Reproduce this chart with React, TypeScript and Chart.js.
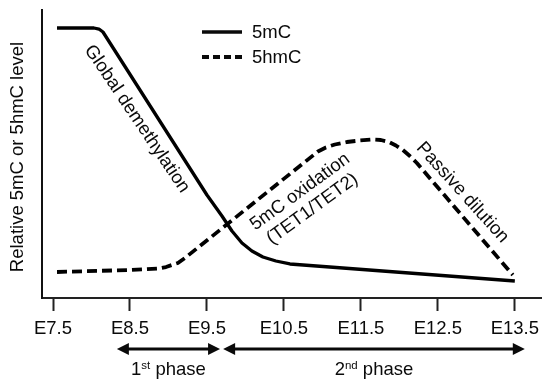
import React, { useEffect, useRef } from "react";
import { Chart, registerables } from "chart.js";

Chart.register(...registerables);

// ---- data ----
const tickValues = [7.5, 8.5, 9.5, 10.5, 11.5, 12.5, 13.5];
const tickLabels = ["E7.5", "E8.5", "E9.5", "E10.5", "E11.5", "E12.5", "E13.5"];

const seriesLabels = ["5mC", "5hmC"];

const mC_x = [7.552, 8.032, 8.097, 8.149, 9.5, 9.695, 9.825, 9.955, 10.084, 10.227, 10.396, 10.578, 13.5];
const mC_y = [93.75, 93.75, 93.4, 92.36, 35.76, 28.47, 23.26, 19.1, 16.32, 14.24, 12.85, 11.81, 5.9];

const hmC_x = [7.552, 8.5, 8.864, 8.968, 9.045, 9.123, 9.214, 10.942, 11.045, 11.162, 11.318, 11.487, 11.643, 11.76, 11.864, 11.955, 12.045, 12.136, 12.227, 12.305, 13.474];
const hmC_y = [9.03, 9.72, 10.24, 10.76, 11.46, 12.15, 13.89, 50.87, 52.26, 53.3, 54.17, 54.69, 55.03, 54.86, 54.17, 52.95, 51.39, 49.31, 46.88, 44.44, 7.99];

const yTitle = "Relative 5mC or 5hmC level";

// in-plot annotations (anchor in data units, angle in degrees)
const annotText = [["Global demethylation"], ["5mC oxidation", "(TET1/TET2)"], ["Passive dilution"]];
const annotX = [8.59, 10.79, 12.82];
const annotY = [62.2, 33.9, 36.6];
const annotAngle = [56, -36, 48];

// phases below the axis
const phaseStart = [8.33, 9.71];
const phaseEnd = [9.67, 13.63];
const phaseNum = ["1", "2"];
const phaseSup = ["st", "nd"];
const phaseWord = " phase";

const FONT = "'Liberation Sans', Arial, Helvetica, sans-serif";
const INK = "#0a0a0a";
const FS = 18.5;

function drawArrow(ctx: CanvasRenderingContext2D, x1: number, x2: number, y: number) {
  const hl = 12;
  const hh = 6;
  ctx.beginPath();
  ctx.moveTo(x1 + hl - 1, y);
  ctx.lineTo(x2 - hl + 1, y);
  ctx.stroke();
  ctx.beginPath();
  ctx.moveTo(x1, y);
  ctx.lineTo(x1 + hl, y - hh);
  ctx.lineTo(x1 + hl, y + hh);
  ctx.closePath();
  ctx.fill();
  ctx.beginPath();
  ctx.moveTo(x2, y);
  ctx.lineTo(x2 - hl, y - hh);
  ctx.lineTo(x2 - hl, y + hh);
  ctx.closePath();
  ctx.fill();
}

const annotPlugin = {
  id: "annot",
  afterDraw(chart: any) {
    const ctx: CanvasRenderingContext2D = chart.ctx;
    const xs = chart.scales.x;
    const ys = chart.scales.y;
    const area = chart.chartArea;
    ctx.save();
    ctx.fillStyle = INK;
    ctx.strokeStyle = INK;

    // rotated annotations
    ctx.font = `${FS}px ${FONT}`;
    for (let i = 0; i < annotText.length; i++) {
      const px = xs.getPixelForValue(annotX[i]);
      const py = ys.getPixelForValue(annotY[i]);
      ctx.save();
      ctx.translate(px, py);
      ctx.rotate((annotAngle[i] * Math.PI) / 180);
      ctx.textAlign = "center";
      ctx.textBaseline = "middle";
      const lines = annotText[i];
      lines.forEach((l, k) => ctx.fillText(l, 0, (k - (lines.length - 1) / 2) * 21));
      ctx.restore();
    }

    // y-axis title
    ctx.save();
    ctx.translate(17.5, (area.top + area.bottom) / 2 + 3);
    ctx.rotate(-Math.PI / 2);
    ctx.textAlign = "center";
    ctx.textBaseline = "middle";
    ctx.font = `${FS}px ${FONT}`;
    ctx.fillText(yTitle, 0, 0);
    ctx.restore();

    // legend
    const lx = area.left + 160;
    const ly0 = area.top + 22;
    chart.data.datasets.forEach((ds: any, i: number) => {
      const ly = ly0 + i * 25;
      ctx.save();
      ctx.lineWidth = ds.borderWidth;
      ctx.setLineDash(i === 0 ? [] : [7, 4]);
      ctx.beginPath();
      ctx.moveTo(lx, ly);
      ctx.lineTo(lx + 40, ly);
      ctx.stroke();
      ctx.restore();
      ctx.textAlign = "left";
      ctx.textBaseline = "middle";
      ctx.font = `${FS}px ${FONT}`;
      ctx.fillText(ds.label, lx + 50, ly + 1);
    });

    // phase arrows
    const ay = area.bottom + 51;
    ctx.lineWidth = 3;
    for (let i = 0; i < phaseStart.length; i++) {
      const x1 = xs.getPixelForValue(phaseStart[i]);
      const x2 = xs.getPixelForValue(phaseEnd[i]);
      drawArrow(ctx, x1, x2, ay);
      const big = `${FS}px ${FONT}`;
      const small = `${FS * 0.62}px ${FONT}`;
      ctx.font = big;
      const w1 = ctx.measureText(phaseNum[i]).width;
      const w3 = ctx.measureText(phaseWord).width;
      ctx.font = small;
      const w2 = ctx.measureText(phaseSup[i]).width;
      const total = w1 + w2 + w3;
      let cx = (x1 + x2) / 2 - total / 2;
      const by = ay + 26;
      ctx.textAlign = "left";
      ctx.textBaseline = "alphabetic";
      ctx.font = big;
      ctx.fillText(phaseNum[i], cx, by);
      cx += w1;
      ctx.font = small;
      ctx.fillText(phaseSup[i], cx, by - 6.5);
      cx += w2;
      ctx.font = big;
      ctx.fillText(phaseWord, cx, by);
    }
    ctx.restore();
  },
};

export default function App() {
  const ref = useRef<HTMLCanvasElement | null>(null);
  useEffect(() => {
    if (!ref.current) return;
    const chart = new Chart(ref.current, {
      type: "line",
      data: {
        datasets: [
          {
            label: seriesLabels[0],
            data: mC_x.map((x, i) => ({ x, y: mC_y[i] })),
            borderColor: "#000000",
            borderWidth: 3.3,
            pointRadius: 0,
            fill: false,
            tension: 0,
            borderJoinStyle: "round",
          },
          {
            label: seriesLabels[1],
            data: hmC_x.map((x, i) => ({ x, y: hmC_y[i] })),
            borderColor: "#000000",
            borderWidth: 3.8,
            borderDash: [10, 5],
            pointRadius: 0,
            fill: false,
            tension: 0,
            borderJoinStyle: "round",
          },
        ],
      },
      options: {
        responsive: false,
        animation: false,
        devicePixelRatio: 1,
        layout: { padding: { left: 0, top: 10, right: 9, bottom: 0 } },
        plugins: { legend: { display: false }, tooltip: { enabled: false } },
        scales: {
          x: {
            type: "linear",
            min: 7.357,
            max: 13.84,
            afterBuildTicks: (scale: any) => {
              scale.ticks = tickValues.map((v) => ({ value: v }));
            },
            afterFit: (scale: any) => {
              scale.height = 87;
            },
            grid: {
              display: true,
              drawOnChartArea: false,
              drawTicks: true,
              tickLength: 13,
              tickColor: "#222222",
              tickWidth: 2,
              color: "#222222",
            },
            border: { display: true, color: "#222222", width: 2 },
            ticks: {
              autoSkip: false,
              maxRotation: 0,
              padding: 7,
              color: INK,
              font: { family: FONT, size: FS },
              callback: (v: any) => {
                const idx = tickValues.indexOf(Number(v));
                return idx >= 0 ? tickLabels[idx] : "";
              },
            },
          },
          y: {
            type: "linear",
            min: 0,
            max: 100,
            afterFit: (scale: any) => {
              scale.width = 42;
            },
            grid: { display: false, drawTicks: false },
            border: { display: true, color: "#111111", width: 2 },
            ticks: { display: false },
          },
        },
      },
      plugins: [annotPlugin],
    } as any);
    return () => chart.destroy();
  }, []);
  return (
    <div style={{ position: "fixed", left: 0, top: 0, width: 550, height: 385, background: "#ffffff" }}>
      <canvas ref={ref} width={550} height={385} style={{ display: "block", width: 550, height: 385 }} />
    </div>
  );
}
